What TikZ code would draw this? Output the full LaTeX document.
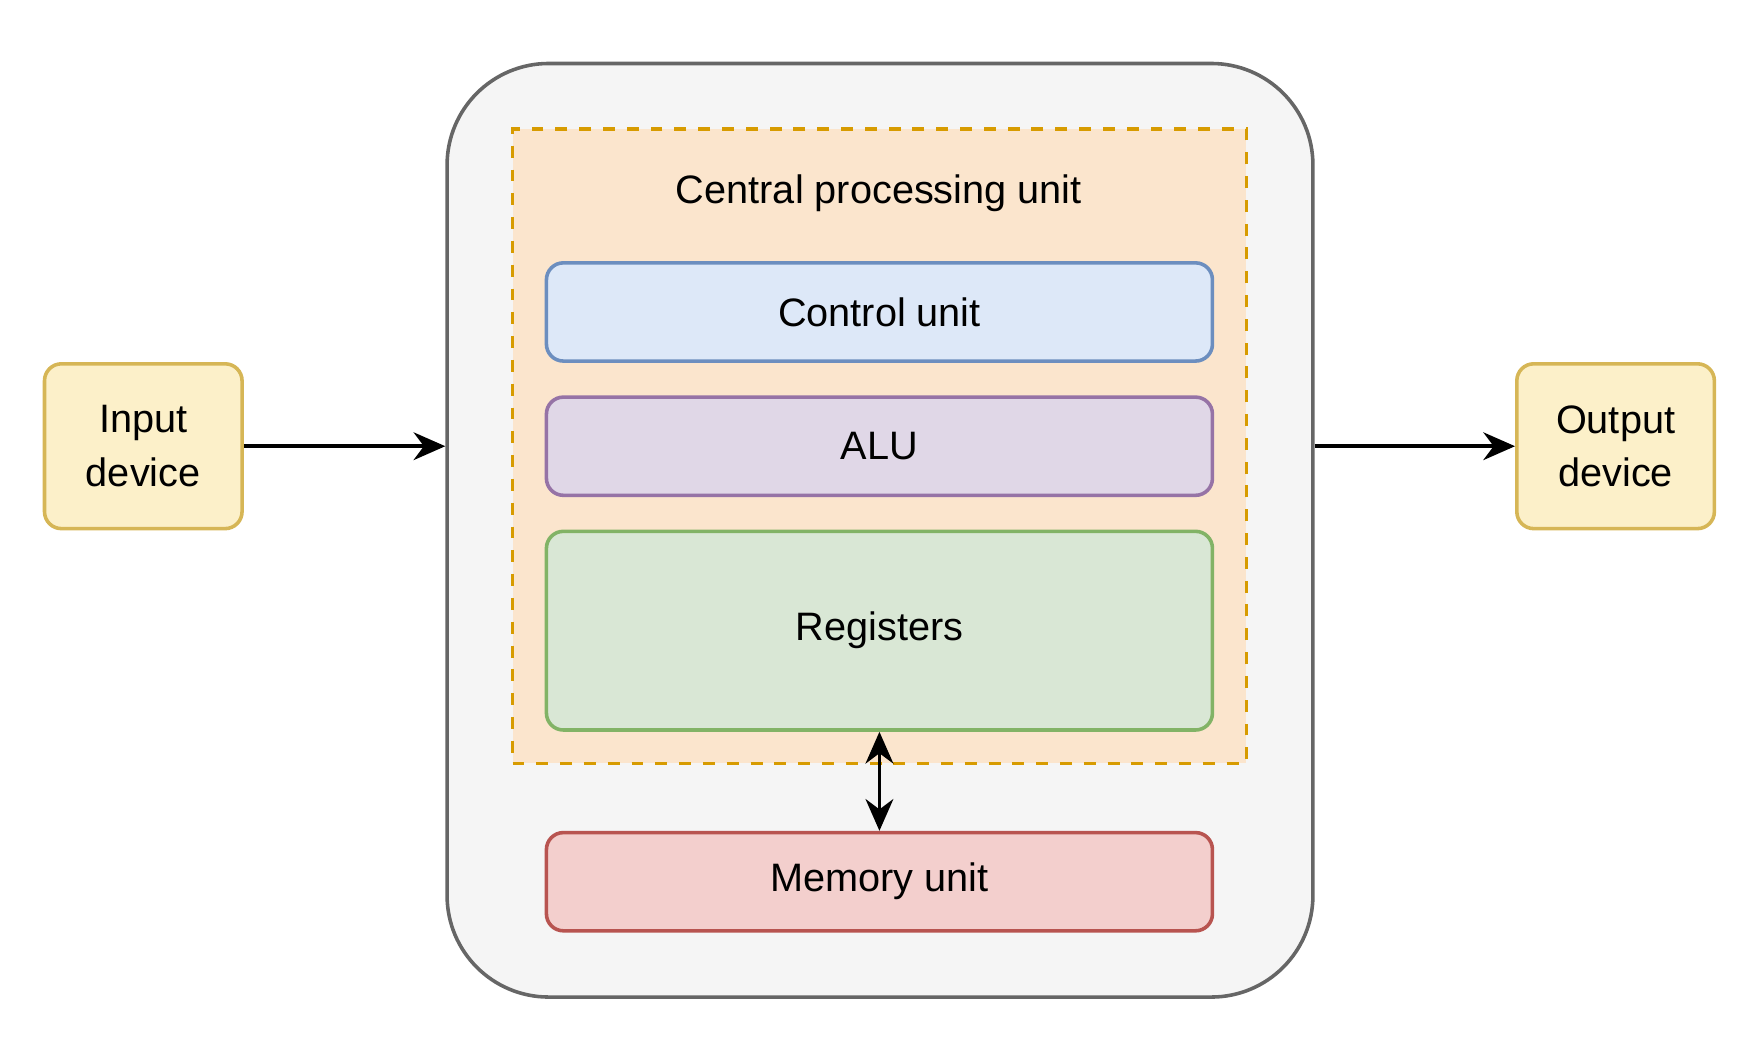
\documentclass[tikz,border=0pt]{standalone}
\usepackage{fontspec}
\setmainfont{Liberation Sans}
\usetikzlibrary{arrows.meta}
\definecolor{grayfill}{HTML}{F5F5F5}\definecolor{graydraw}{HTML}{666666}
\definecolor{cpufill}{HTML}{FBE5CD}\definecolor{cpudraw}{HTML}{D79B00}
\definecolor{bluefill}{HTML}{DDE8F8}\definecolor{bluedraw}{HTML}{6C8EBF}
\definecolor{purplefill}{HTML}{E0D7E7}\definecolor{purpledraw}{HTML}{9673A6}
\definecolor{greenfill}{HTML}{D9E7D5}\definecolor{greendraw}{HTML}{82B366}
\definecolor{redfill}{HTML}{F3CFCD}\definecolor{reddraw}{HTML}{B85450}
\definecolor{yellowfill}{HTML}{FCF0C9}\definecolor{yellowdraw}{HTML}{D6B656}
\tikzset{
  unit/.style={draw=#1draw, fill=#1fill, line width=0.9pt, rounded corners=0.15cm,
    minimum width=5.9cm, inner sep=0pt, font=\fontsize{10}{12}\selectfont},
  device/.style={draw=yellowdraw, fill=yellowfill, line width=0.9pt, rounded corners=0.15cm,
    minimum width=1.75cm, minimum height=1.46cm, inner sep=0pt, align=center,
    font=\fontsize{10}{13.5}\selectfont},
}
\begin{document}
\begin{tikzpicture}[x=0.01cm, y=-0.01cm, >={Stealth[length=8pt,width=7pt]}, line width=0.9pt]
\useasboundingbox (0,0) rectangle (1560,930);

\node[draw=graydraw, fill=grayfill, rounded corners=0.9cm, minimum width=7.67cm, minimum height=8.27cm] (computer) at (780,470) {};
\node[draw=cpudraw, fill=cpufill, dashed, minimum width=6.5cm, minimum height=5.62cm] (cpu) at (779.5,395.5) {};
\node[font=\fontsize{10}{12}\selectfont] (cputitle) at (779,171) {Central processing unit};

\node[unit=blue, minimum height=0.87cm] (control) at (779.5,276.5) {Control unit};
\node[unit=purple, minimum height=0.87cm] (alu) at (779.5,395.5) {ALU};
\node[unit=green, minimum height=1.76cm] (registers) at (779.5,559) {Registers};
\node[unit=red, minimum height=0.87cm] (memory) at (779.5,781.5) {Memory unit};

\node[device] (input) at (127,395.5) {Input\\device};
\node[device] (output) at (1432,395.5) {Output\\device};

\draw[->] (input.east) -- (computer.west |- input.east);
\draw[->] (computer.east |- output.west) -- (output.west);
\draw[<->] (registers.south) -- (memory.north);
\end{tikzpicture}
\end{document}
